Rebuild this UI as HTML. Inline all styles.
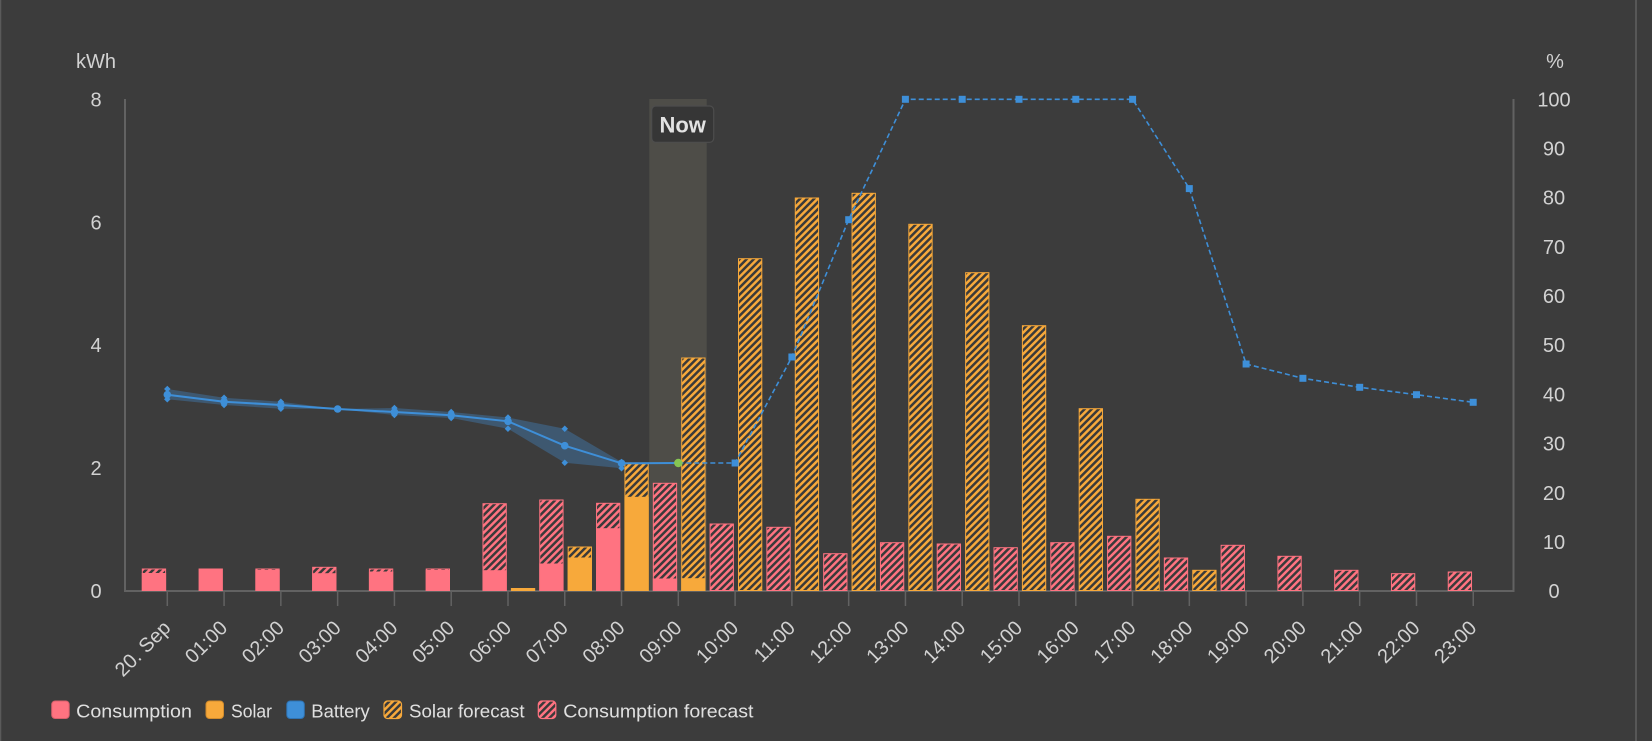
<!DOCTYPE html>
<html><head><meta charset="utf-8"><style>
html,body{margin:0;padding:0;background:#3c3c3c;}
svg{display:block;}
</style></head><body>
<svg width="1652" height="741" viewBox="0 0 1652 741" xmlns="http://www.w3.org/2000/svg" font-family="'Liberation Sans', sans-serif">
<defs>
<pattern id="hp" patternUnits="userSpaceOnUse" width="5" height="5" patternTransform="rotate(45)">
<rect width="5" height="5" fill="#ff7381"/><rect width="2.5" height="5" fill="#3a3a3a"/>
</pattern>
<pattern id="ho" patternUnits="userSpaceOnUse" width="5" height="5" patternTransform="rotate(45)">
<rect width="5" height="5" fill="#f7a93b"/><rect width="2.5" height="5" fill="#3a3a3a"/>
</pattern>
</defs>
<rect width="1652" height="741" fill="#3c3c3c"/>
<line x1="0.5" y1="0" x2="0.5" y2="741" stroke="#5a5a5a" stroke-width="1.5"/>
<line x1="1636" y1="0" x2="1636" y2="741" stroke="#606060" stroke-width="1.5"/>

<!-- Now band -->
<rect x="649.3" y="99" width="57.4" height="492" fill="#4e4d48"/>

<!-- axes -->
<g stroke="#626262" stroke-width="2">
<line x1="125" y1="99" x2="125" y2="592"/>
<line x1="1513.5" y1="99" x2="1513.5" y2="592"/>
<line x1="124" y1="591" x2="1514.5" y2="591"/>
</g>
<g stroke="#626262" stroke-width="1.5">
<line x1="167.3" y1="591" x2="167.3" y2="606"/><line x1="224.08" y1="591" x2="224.08" y2="606"/><line x1="280.86" y1="591" x2="280.86" y2="606"/><line x1="337.64" y1="591" x2="337.64" y2="606"/><line x1="394.42" y1="591" x2="394.42" y2="606"/><line x1="451.2" y1="591" x2="451.2" y2="606"/><line x1="507.98" y1="591" x2="507.98" y2="606"/><line x1="564.76" y1="591" x2="564.76" y2="606"/><line x1="621.54" y1="591" x2="621.54" y2="606"/><line x1="678.32" y1="591" x2="678.32" y2="606"/><line x1="735.1" y1="591" x2="735.1" y2="606"/><line x1="791.88" y1="591" x2="791.88" y2="606"/><line x1="848.66" y1="591" x2="848.66" y2="606"/><line x1="905.44" y1="591" x2="905.44" y2="606"/><line x1="962.22" y1="591" x2="962.22" y2="606"/><line x1="1019" y1="591" x2="1019" y2="606"/><line x1="1075.78" y1="591" x2="1075.78" y2="606"/><line x1="1132.56" y1="591" x2="1132.56" y2="606"/><line x1="1189.34" y1="591" x2="1189.34" y2="606"/><line x1="1246.12" y1="591" x2="1246.12" y2="606"/><line x1="1302.9" y1="591" x2="1302.9" y2="606"/><line x1="1359.68" y1="591" x2="1359.68" y2="606"/><line x1="1416.46" y1="591" x2="1416.46" y2="606"/><line x1="1473.24" y1="591" x2="1473.24" y2="606"/>
</g>

<!-- consumption hatched (forecast) -->
<g fill="url(#hp)" stroke="#ff7381" stroke-width="1">
<rect x="142.3" y="569" width="23.3" height="21.5"/>
<rect x="255.86" y="569" width="23.3" height="21.5"/>
<rect x="312.64" y="567.3" width="23.3" height="23.2"/>
<rect x="369.42" y="569" width="23.3" height="21.5"/>
<rect x="426.2" y="569" width="23.3" height="21.5"/>
<rect x="482.98" y="503.7" width="23.3" height="86.8"/>
<rect x="539.76" y="500" width="23.3" height="90.5"/>
<rect x="596.54" y="503.3" width="23.3" height="87.2"/>
<rect x="653.32" y="483.3" width="23.3" height="107.2"/>
<rect x="710.1" y="524" width="23.3" height="66.5"/>
<rect x="766.88" y="527.3" width="23.3" height="63.2"/>
<rect x="823.66" y="553.7" width="23.3" height="36.8"/>
<rect x="880.44" y="542.7" width="23.3" height="47.8"/>
<rect x="937.22" y="544" width="23.3" height="46.5"/>
<rect x="994" y="547.7" width="23.3" height="42.8"/>
<rect x="1050.78" y="542.7" width="23.3" height="47.8"/>
<rect x="1107.56" y="536.3" width="23.3" height="54.2"/>
<rect x="1164.34" y="558" width="23.3" height="32.5"/>
<rect x="1221.12" y="545.3" width="23.3" height="45.2"/>
<rect x="1277.9" y="556.3" width="23.3" height="34.2"/>
<rect x="1334.68" y="570.3" width="23.3" height="20.2"/>
<rect x="1391.46" y="573.7" width="23.3" height="16.8"/>
<rect x="1448.24" y="572" width="23.3" height="18.5"/>
</g>
<!-- consumption actual -->
<g fill="#ff7381" stroke="#ff7381" stroke-width="1">
<rect x="142.3" y="573.5" width="23.3" height="17"/>
<rect x="199.08" y="569" width="23.3" height="21.5"/>
<rect x="255.86" y="570.5" width="23.3" height="20"/>
<rect x="312.64" y="573.7" width="23.3" height="16.8"/>
<rect x="369.42" y="572" width="23.3" height="18.5"/>
<rect x="426.2" y="570.5" width="23.3" height="20"/>
<rect x="482.98" y="570.7" width="23.3" height="19.8"/>
<rect x="539.76" y="564" width="23.3" height="26.5"/>
<rect x="596.54" y="528.7" width="23.3" height="61.8"/>
<rect x="653.32" y="579" width="23.3" height="11.5"/>
</g>
<!-- solar hatched (forecast) -->
<g fill="url(#ho)" stroke="#f7a93b" stroke-width="1">
<rect x="568.16" y="547" width="23.3" height="43.5"/>
<rect x="624.94" y="463.7" width="23.3" height="126.8"/>
<rect x="681.72" y="358" width="23.3" height="232.5"/>
<rect x="738.5" y="258.7" width="23.3" height="331.8"/>
<rect x="795.28" y="198" width="23.3" height="392.5"/>
<rect x="852.06" y="193.3" width="23.3" height="397.2"/>
<rect x="908.84" y="224.3" width="23.3" height="366.2"/>
<rect x="965.62" y="272.7" width="23.3" height="317.8"/>
<rect x="1022.4" y="325.7" width="23.3" height="264.8"/>
<rect x="1079.18" y="408.7" width="23.3" height="181.8"/>
<rect x="1135.96" y="499.3" width="23.3" height="91.2"/>
<rect x="1192.74" y="570.3" width="23.3" height="20.2"/>
</g>
<!-- solar actual -->
<g fill="#f7a93b" stroke="#f7a93b" stroke-width="1">
<rect x="511.38" y="588.5" width="23.3" height="2"/>
<rect x="568.16" y="558" width="23.3" height="32.5"/>
<rect x="624.94" y="497.3" width="23.3" height="93.2"/>
<rect x="681.72" y="578.7" width="23.3" height="11.8"/>
</g>

<!-- battery range band -->
<polygon fill="rgba(66,139,208,0.35)" points="167.3,389 224.08,397.7 280.86,401.7 337.64,409 394.42,408 451.2,412 507.98,417.5 564.76,428.7 621.54,462 621.54,468.3 564.76,462.7 507.98,428.7 451.2,418 394.42,415 337.64,409 280.86,408.7 224.08,405 167.3,399.3"/>
<!-- battery line solid -->
<polyline fill="none" stroke="#3e8fd8" stroke-width="2" points="167.3,394.7 224.08,401.7 280.86,405 337.64,409 394.42,412 451.2,415.3 507.98,421.3 564.76,445.7 621.54,463.3 678.32,463"/>
<!-- battery forecast dashed -->
<polyline fill="none" stroke="#3e8fd8" stroke-width="1.6" stroke-dasharray="5,3" points="678.32,463 735.1,463 791.88,357 848.66,219.7 905.44,99.3 962.22,99.3 1019,99.3 1075.78,99.3 1132.56,99.3 1189.34,188.6 1246.12,364 1302.9,378.3 1359.68,387.3 1416.46,394.7 1473.24,402.3"/>
<!-- markers -->
<g fill="#3e8fd8">
<circle cx="167.3" cy="394.7" r="3.8"/><circle cx="224.08" cy="401.7" r="3.8"/><circle cx="280.86" cy="405" r="3.8"/><circle cx="337.64" cy="409" r="3.8"/><circle cx="394.42" cy="412" r="3.8"/><circle cx="451.2" cy="415.3" r="3.8"/><circle cx="507.98" cy="421.3" r="3.8"/><circle cx="564.76" cy="445.7" r="3.8"/><circle cx="621.54" cy="463.3" r="3.8"/>
<g transform="translate(167.3,389) rotate(45)"><rect x="-2.3" y="-2.3" width="4.6" height="4.6"/></g>
<g transform="translate(167.3,399.3) rotate(45)"><rect x="-2.3" y="-2.3" width="4.6" height="4.6"/></g>
<g transform="translate(224.08,397.7) rotate(45)"><rect x="-2.3" y="-2.3" width="4.6" height="4.6"/></g>
<g transform="translate(224.08,405) rotate(45)"><rect x="-2.3" y="-2.3" width="4.6" height="4.6"/></g>
<g transform="translate(280.86,401.7) rotate(45)"><rect x="-2.3" y="-2.3" width="4.6" height="4.6"/></g>
<g transform="translate(280.86,408.7) rotate(45)"><rect x="-2.3" y="-2.3" width="4.6" height="4.6"/></g>
<g transform="translate(394.42,408) rotate(45)"><rect x="-2.3" y="-2.3" width="4.6" height="4.6"/></g>
<g transform="translate(394.42,415) rotate(45)"><rect x="-2.3" y="-2.3" width="4.6" height="4.6"/></g>
<g transform="translate(451.2,412) rotate(45)"><rect x="-2.3" y="-2.3" width="4.6" height="4.6"/></g>
<g transform="translate(451.2,418) rotate(45)"><rect x="-2.3" y="-2.3" width="4.6" height="4.6"/></g>
<g transform="translate(507.98,417.5) rotate(45)"><rect x="-2.3" y="-2.3" width="4.6" height="4.6"/></g>
<g transform="translate(507.98,428.7) rotate(45)"><rect x="-2.3" y="-2.3" width="4.6" height="4.6"/></g>
<g transform="translate(564.76,428.7) rotate(45)"><rect x="-2.3" y="-2.3" width="4.6" height="4.6"/></g>
<g transform="translate(564.76,462.7) rotate(45)"><rect x="-2.3" y="-2.3" width="4.6" height="4.6"/></g>
<g transform="translate(621.54,462) rotate(45)"><rect x="-2.3" y="-2.3" width="4.6" height="4.6"/></g>
<g transform="translate(621.54,468.3) rotate(45)"><rect x="-2.3" y="-2.3" width="4.6" height="4.6"/></g>
<rect x="731.6" y="459.5" width="7" height="7"/><rect x="788.4" y="353.5" width="7" height="7"/><rect x="845.2" y="216.2" width="7" height="7"/><rect x="901.9" y="95.8" width="7" height="7"/><rect x="958.7" y="95.8" width="7" height="7"/><rect x="1015.5" y="95.8" width="7" height="7"/><rect x="1072.3" y="95.8" width="7" height="7"/><rect x="1129.1" y="95.8" width="7" height="7"/><rect x="1185.8" y="185.1" width="7" height="7"/><rect x="1242.6" y="360.5" width="7" height="7"/><rect x="1299.4" y="374.8" width="7" height="7"/><rect x="1356.2" y="383.8" width="7" height="7"/><rect x="1413" y="391.2" width="7" height="7"/><rect x="1469.7" y="398.8" width="7" height="7"/>
</g>
<circle cx="678.32" cy="463" r="4.2" fill="#86c552"/>

<!-- Now label -->
<rect x="651.7" y="106" width="62" height="36.3" rx="4" fill="#363636" stroke="#4d4d4d" stroke-width="1.2"/>
<text x="682.7" y="132.3" text-anchor="middle" font-size="22" font-weight="bold" fill="#e2e2e2">Now</text>

<!-- y axis labels -->
<g font-size="20" fill="#d2d2d2" text-anchor="middle">
<text x="96" y="68">kWh</text>
<text x="96" y="106.3">8</text>
<text x="96" y="229.4">6</text>
<text x="96" y="352.2">4</text>
<text x="96" y="475">2</text>
<text x="96" y="598">0</text>
<text x="1555" y="68">%</text>
<text x="1554" y="106.3">100</text>
<text x="1554" y="155.5">90</text>
<text x="1554" y="204.7">80</text>
<text x="1554" y="253.9">70</text>
<text x="1554" y="303">60</text>
<text x="1554" y="352.2">50</text>
<text x="1554" y="401.4">40</text>
<text x="1554" y="450.6">30</text>
<text x="1554" y="499.8">20</text>
<text x="1554" y="548.8">10</text>
<text x="1554" y="598">0</text>
</g>

<!-- x axis labels -->
<g font-size="20" fill="#d2d2d2" text-anchor="end">
<text transform="translate(171.8,629) rotate(-45)">20. Sep</text>
<text transform="translate(228.58,629) rotate(-45)">01:00</text>
<text transform="translate(285.36,629) rotate(-45)">02:00</text>
<text transform="translate(342.14,629) rotate(-45)">03:00</text>
<text transform="translate(398.92,629) rotate(-45)">04:00</text>
<text transform="translate(455.7,629) rotate(-45)">05:00</text>
<text transform="translate(512.48,629) rotate(-45)">06:00</text>
<text transform="translate(569.26,629) rotate(-45)">07:00</text>
<text transform="translate(626.04,629) rotate(-45)">08:00</text>
<text transform="translate(682.82,629) rotate(-45)">09:00</text>
<text transform="translate(739.6,629) rotate(-45)">10:00</text>
<text transform="translate(796.38,629) rotate(-45)">11:00</text>
<text transform="translate(853.16,629) rotate(-45)">12:00</text>
<text transform="translate(909.94,629) rotate(-45)">13:00</text>
<text transform="translate(966.72,629) rotate(-45)">14:00</text>
<text transform="translate(1023.5,629) rotate(-45)">15:00</text>
<text transform="translate(1080.28,629) rotate(-45)">16:00</text>
<text transform="translate(1137.06,629) rotate(-45)">17:00</text>
<text transform="translate(1193.84,629) rotate(-45)">18:00</text>
<text transform="translate(1250.62,629) rotate(-45)">19:00</text>
<text transform="translate(1307.4,629) rotate(-45)">20:00</text>
<text transform="translate(1364.18,629) rotate(-45)">21:00</text>
<text transform="translate(1420.96,629) rotate(-45)">22:00</text>
<text transform="translate(1477.74,629) rotate(-45)">23:00</text>
</g>

<!-- legend -->
<rect x="51.7" y="701" width="17.5" height="17.5" rx="3.5" fill="#ff7381" stroke="#d8606c" stroke-width="1"/>
<rect x="206" y="701" width="17.5" height="17.5" rx="3.5" fill="#f7a93b" stroke="#d28c2c" stroke-width="1"/>
<rect x="286.8" y="701" width="17.5" height="17.5" rx="3.5" fill="#3e8fd8" stroke="#2f74b4" stroke-width="1"/>
<rect x="384" y="701" width="17.5" height="17.5" rx="3.5" fill="url(#ho)" stroke="#f7a93b" stroke-width="1.2"/>
<rect x="538.3" y="701" width="17.5" height="17.5" rx="3.5" fill="url(#hp)" stroke="#ff7381" stroke-width="1.2"/>
<g font-size="18" fill="#e0e0e0">
<text x="76.2" y="717.5" textLength="115.7" lengthAdjust="spacingAndGlyphs">Consumption</text>
<text x="231" y="717.5" textLength="41" lengthAdjust="spacingAndGlyphs">Solar</text>
<text x="311.3" y="717.5" textLength="58.5" lengthAdjust="spacingAndGlyphs">Battery</text>
<text x="409" y="717.5" textLength="115.6" lengthAdjust="spacingAndGlyphs">Solar forecast</text>
<text x="563.3" y="717.5" textLength="190.2" lengthAdjust="spacingAndGlyphs">Consumption forecast</text>
</g>
</svg>
</body></html>
